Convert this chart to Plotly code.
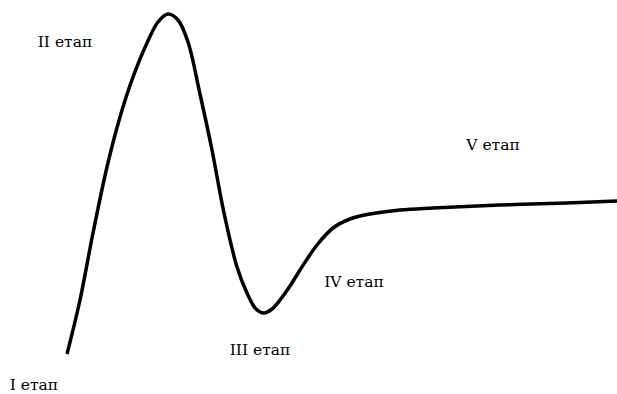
import plotly.graph_objects as go

# curve (x: left to right, y: height above the bottom edge)
curve_x = [67, 80, 93, 107, 120, 133, 147, 158, 168, 178, 188, 200, 212, 224,
           237, 247, 256, 264, 272, 280, 290, 300, 317, 333, 350, 370, 400,
           433, 500, 567, 617]
curve_y = [40, 94, 161, 227, 277, 317, 351, 372, 380, 374, 352, 300, 244, 181,
           127, 101, 85, 81, 85, 94, 108, 124, 149, 166, 175, 180, 184,
           186, 189, 191, 193]

stage_labels = ['I етап', 'II етап', 'III етап', 'IV етап', 'V етап']
stage_x = [34, 65, 260, 354, 493]
stage_y = [8, 351, 43, 111, 248]

fig = go.Figure()
fig.add_trace(go.Scatter(x=curve_x, y=curve_y, mode='lines',
                         line=dict(color='black', width=3.5, shape='spline', smoothing=1.0),
                         hoverinfo='skip'))
fig.add_trace(go.Scatter(x=stage_x, y=stage_y, mode='text', text=stage_labels,
                         textfont=dict(family='DejaVu Serif', size=15.5, color='black'),
                         cliponaxis=False, hoverinfo='skip'))

fig.update_layout(
    width=617, height=394,
    margin=dict(l=0, r=0, t=0, b=0),
    paper_bgcolor='white', plot_bgcolor='white',
    showlegend=False,
    xaxis=dict(range=[0, 617], visible=False, fixedrange=True),
    yaxis=dict(range=[0, 394], visible=False, fixedrange=True),
)
# page body has a default margin, remove it so the chart sits at the corner
fig.write_html("out.html", config={'displayModeBar': False},
               post_script="document.body.style.margin='0';")
